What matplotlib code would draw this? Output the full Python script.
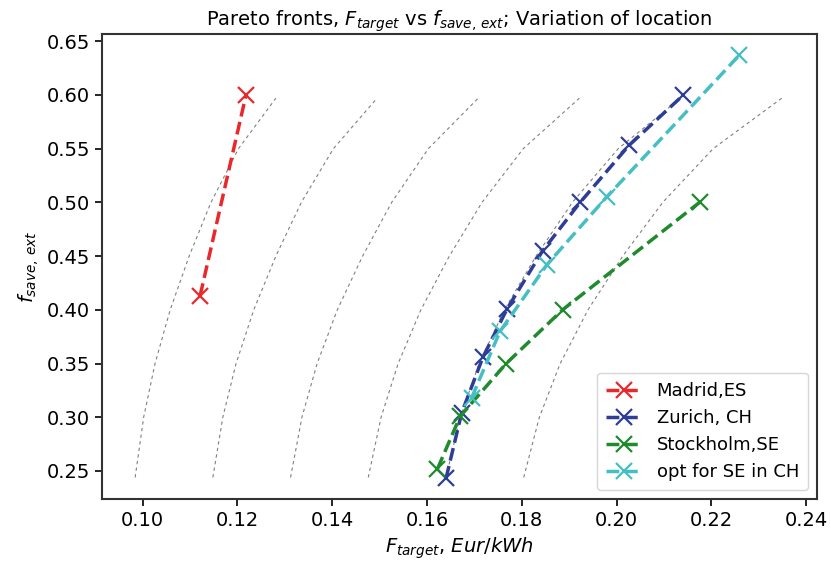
import matplotlib
matplotlib.use('Agg')
import matplotlib.pyplot as plt
import numpy as np

# Pareto fronts
madrid_x = [0.1121, 0.1218]
madrid_y = [0.413, 0.600]

zurich_x = [0.1640, 0.1673, 0.1718, 0.1769, 0.1844, 0.1923, 0.2026, 0.2141]
zurich_y = [0.243, 0.304, 0.356, 0.401, 0.455, 0.500, 0.553, 0.600]

stockholm_x = [0.1622, 0.1670, 0.1767, 0.1886, 0.2175]
stockholm_y = [0.252, 0.301, 0.350, 0.400, 0.500]

opt_x = [0.1694, 0.1754, 0.1853, 0.1979, 0.2259]
opt_y = [0.318, 0.380, 0.442, 0.505, 0.637]

# grey guide curves: one shape, repeated at levels 6..11
guide_y = [0.244, 0.300, 0.350, 0.400, 0.450, 0.500, 0.550, 0.597]
guide_x = [0.0984, 0.1002, 0.1026, 0.1058, 0.1098, 0.1144, 0.1202, 0.1281]
guide_levels = [6, 7, 8, 9, 10, 11]

fig = plt.figure(figsize=(8.31, 5.72), dpi=100)
ax = fig.add_axes([0.1227, 0.1276, 0.8605, 0.8121])

for lev in guide_levels:
    ax.plot(np.array(guide_x) * lev / 6, guide_y, color='grey', ls='--',
            lw=0.8, dashes=(3, 3))

ax.plot(madrid_x, madrid_y, '--x', color='#e8282b', lw=2.5, ms=11, mew=1.6,
        label='Madrid,ES')
ax.plot(zurich_x, zurich_y, '--x', color='#2e3d96', lw=2.5, ms=11, mew=1.6,
        label='Zurich, CH')
ax.plot(stockholm_x, stockholm_y, '--x', color='#1f8a2e', lw=2.5, ms=11, mew=1.6,
        label='Stockholm,SE')
ax.plot(opt_x, opt_y, '--x', color='#45bfc4', lw=2.5, ms=11, mew=1.6,
        label='opt for SE in CH')

ax.set_xlim(0.0914, 0.2423)
ax.set_ylim(0.2239, 0.6563)
ax.set_xticks([0.10, 0.12, 0.14, 0.16, 0.18, 0.20, 0.22, 0.24])
ax.set_yticks([0.25, 0.30, 0.35, 0.40, 0.45, 0.50, 0.55, 0.60, 0.65])
ax.xaxis.set_major_formatter(matplotlib.ticker.FormatStrFormatter('%.2f'))
ax.yaxis.set_major_formatter(matplotlib.ticker.FormatStrFormatter('%.2f'))
ax.tick_params(labelsize=14, length=5, width=1.2)
for s in ax.spines.values():
    s.set_linewidth(1.5)
    s.set_color('#333333')

ax.set_xlabel(r'$F_{target}$, $Eur/kWh$', fontsize=14)
ax.set_ylabel(r'$f_{save,\, ext}$', fontsize=14)
ax.set_title(r'Pareto fronts, $F_{target}$ vs $f_{save,\, ext}$; Variation of location',
             fontsize=14)
ax.legend(loc='lower right', fontsize=13, borderpad=0.5)

fig.savefig('out.png', dpi=100)
